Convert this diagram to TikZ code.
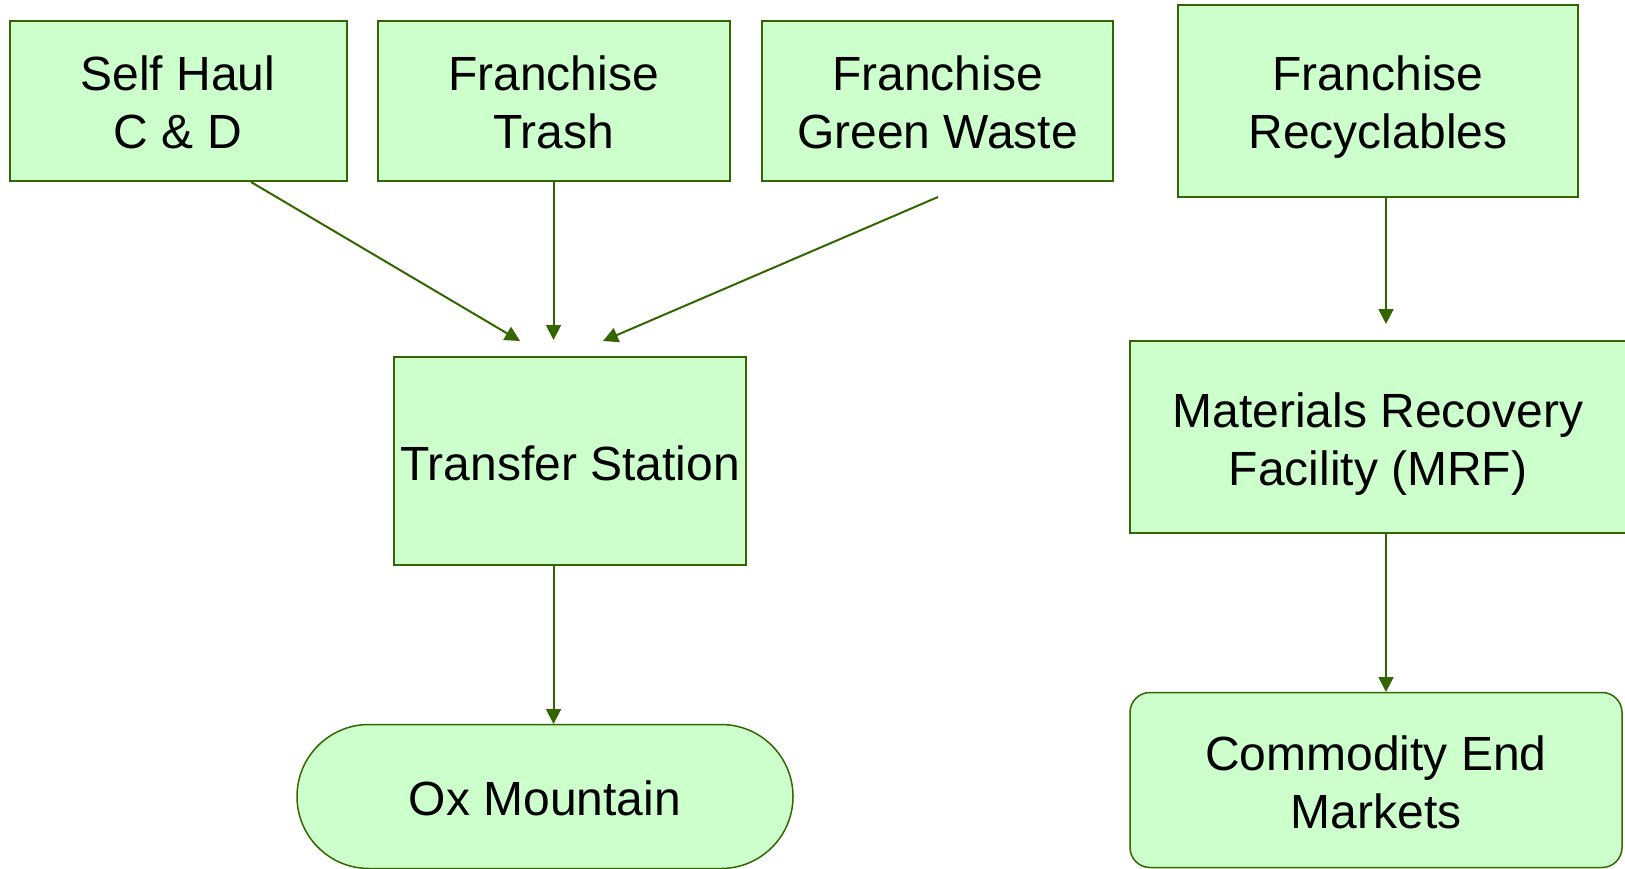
\documentclass[tikz,border=0pt]{standalone}
\usepackage{fontspec}
\setmainfont{Liberation Sans}
\usetikzlibrary{arrows.meta}
\definecolor{edgegreen}{HTML}{336600}
\definecolor{boxfill}{HTML}{CCFFCC}
% strut that lowers the text block inside its box
\newcommand{\lowerby}[1]{\rule{0pt}{\dimexpr35pt+2\dimexpr#1\relax\relax}}
\begin{document}
\begin{tikzpicture}[x=1pt,y=-1pt,
  box/.style={draw=edgegreen, fill=boxfill, line width=2pt, inner sep=0pt,
    align=center, font=\fontsize{48}{58}\selectfont, text=black},
  flow/.style={draw=edgegreen, line width=2pt,
    -{Triangle[length=15pt,width=15pt]}, fill=edgegreen}]
\useasboundingbox (0,0) rectangle (1625,869);

% source boxes
\node[box, minimum width=337pt, minimum height=160pt] (sh) at (178,101) {\lowerby{1.5pt}Self Haul\\C \& D};
\node[box, minimum width=352pt, minimum height=160pt] (ft) at (553.5,101) {\lowerby{1.5pt}Franchise\\Trash};
\node[box, minimum width=351pt, minimum height=160pt] (fg) at (937.5,101) {\lowerby{1.5pt}Franchise\\Green Waste};
\node[box, minimum width=400pt, minimum height=192pt] (fr) at (1378,101) {\lowerby{6pt}Franchise\\Recyclables};

% processing
\node[box, minimum width=352pt, minimum height=208pt] (ts) at (570,461) {\lowerby{2pt}Transfer Station};
\node[box, minimum width=496pt, minimum height=192pt] (mrf) at (1378,437) {\lowerby{7pt}Materials Recovery\\Facility (MRF)};

% destinations
\node[box, line width=1.5pt, rounded corners=72pt, minimum width=496pt, minimum height=144pt] (ox) at (545,796.5) {\lowerby{2pt}Ox Mountain};
\node[box, line width=1.5pt, rounded corners=20pt, minimum width=492pt, minimum height=175pt] (cem) at (1376,780) {\lowerby{2pt}Commodity End\\Markets};

% arrow end points
\coordinate (shout) at ([xshift=73pt]sh.south);
\coordinate (fgout) at (938,197);
\coordinate (tsin1) at (520,341);
\coordinate (tsin2) at (553.5,340);
\coordinate (tsin3) at (603,341);
\coordinate (mrfin) at (1386,324);
\coordinate (frout) at (1386,197);
\coordinate (mrfout) at (1386,533);
\coordinate (cemin) at (1386,692);
\coordinate (tsout) at (553.5,565);
\coordinate (oxin) at (553.5,724);

\draw[flow] (shout) -- (tsin1);
\draw[flow] (ft.south) -- (tsin2);
\draw[flow] (fgout) -- (tsin3);
\draw[flow] (frout) -- (mrfin);
\draw[flow] (mrfout) -- (cemin);
\draw[flow] (tsout) -- (oxin);
\end{tikzpicture}
\end{document}
